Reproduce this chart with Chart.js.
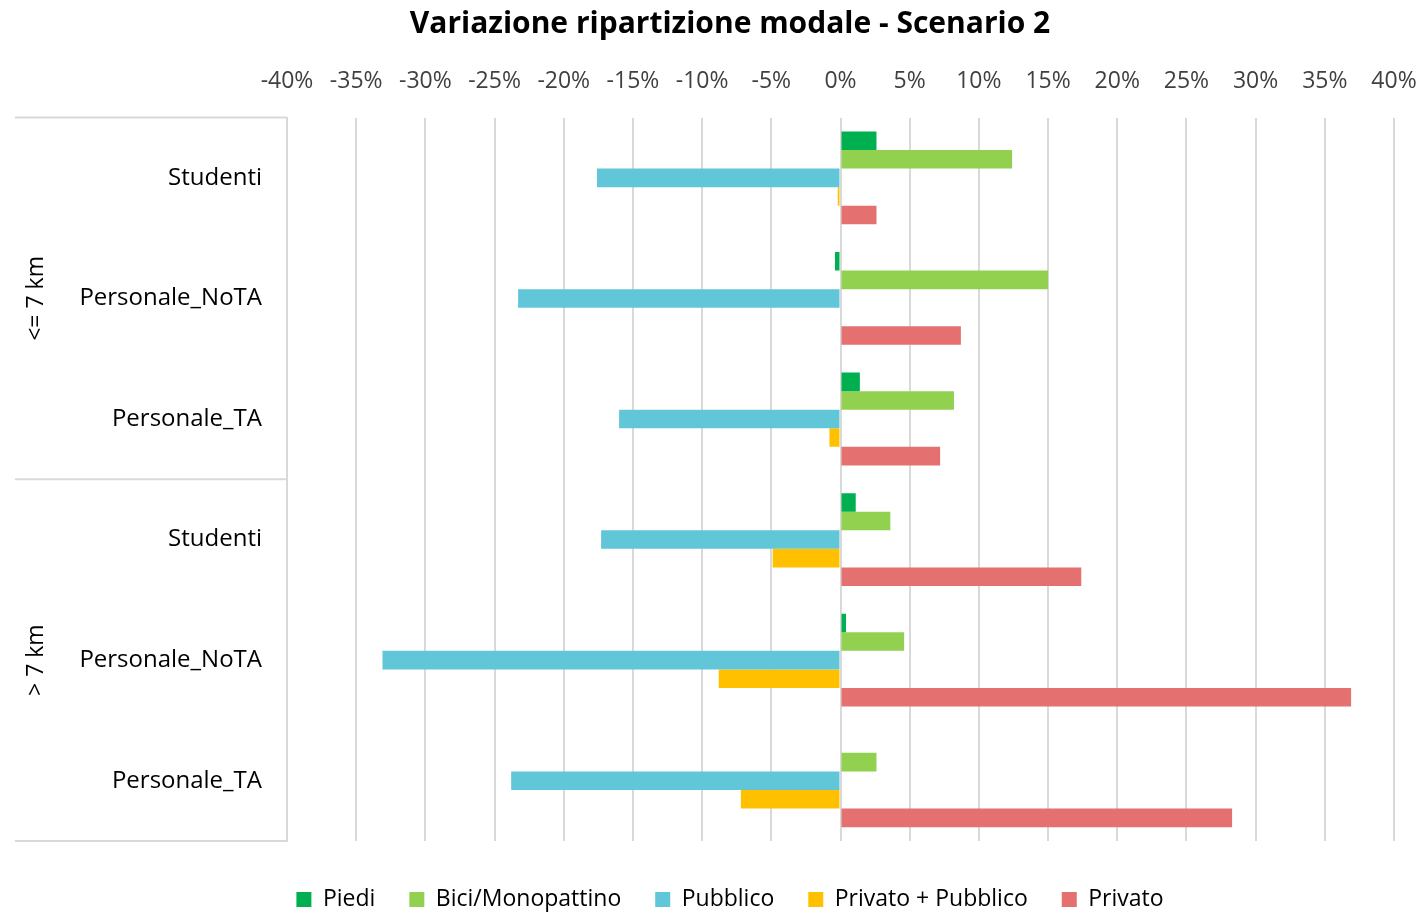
<!DOCTYPE html>
<html>
<head>
<meta charset="utf-8">
<script src="https://cdn.jsdelivr.net/npm/chart.js@4"></script>
<style>
  html, body { margin: 0; padding: 0; background: #fff; }
  #wrap { width: 1425px; height: 913px; }
</style>
</head>
<body>
<div id="wrap"><canvas id="myChart" width="1425" height="913"></canvas></div>
<script>
// categories (inner) and outer distance groups
let categories = ["Studenti", "Personale_NoTA", "Personale_TA", "Studenti", "Personale_NoTA", "Personale_TA"];
let groups = ["<= 7 km", "> 7 km"];
let groupSize = 3;

// series values (%)
let piedi = [2.6, -0.4, 1.4, 1.1, 0.4, 0];
let bici = [12.4, 15.0, 8.2, 3.6, 4.6, 2.6];
let pubblico = [-17.6, -23.3, -16.0, -17.3, -33.1, -23.8];
let privatoPubblico = [-0.2, 0, -0.8, -4.9, -8.8, -7.2];
let privato = [2.6, 8.7, 7.2, 17.4, 36.9, 28.3];

let seriesNames = ["Piedi", "Bici/Monopattino", "Pubblico", "Privato + Pubblico", "Privato"];
let colors = ["#00b050", "#92d050", "#62c6d9", "#ffc000", "#e47070"];

let xTicks = [-40, -35, -30, -25, -20, -15, -10, -5, 0, 5, 10, 15, 20, 25, 30, 35, 40];

let fontFamily = "'Open Sans', sans-serif";
let gridColor = "#d9d9d9";

// draws the outer group labels and separator lines on the category axis
let groupPlugin = {
    id: "groupLabels",
    afterDraw(chart) {
        let ctx = chart.ctx;
        let y = chart.scales.y;
        let area = chart.chartArea;
        let x0 = 15;
        let bounds = [area.top];
        for (let g = 1; g < groups.length; g++) {
            let i = g * groupSize;
            bounds.push((y.getPixelForValue(i - 1) + y.getPixelForValue(i)) / 2);
        }
        bounds.push(area.bottom);

        ctx.save();
        ctx.strokeStyle = gridColor;
        ctx.lineWidth = 2;
        bounds.forEach(b => {
            ctx.beginPath();
            ctx.moveTo(x0, b);
            ctx.lineTo(area.left, b);
            ctx.stroke();
        });

        ctx.fillStyle = "#000";
        ctx.font = "23px " + fontFamily;
        ctx.textAlign = "center";
        ctx.textBaseline = "middle";
        groups.forEach((name, g) => {
            let cy = (bounds[g] + bounds[g + 1]) / 2;
            ctx.save();
            ctx.translate(36, cy);
            ctx.rotate(-Math.PI / 2);
            ctx.fillText(name, 0, 0);
            ctx.restore();
        });
        ctx.restore();
    }
};

let seriesData = [piedi, bici, pubblico, privatoPubblico, privato];

let myChart = document.getElementById("myChart").getContext("2d");

let barChart = new Chart(myChart, {
    type: "bar",
    data: {
        labels: categories,
        datasets: seriesNames.map((name, i) => ({
            label: name,
            data: seriesData[i],
            backgroundColor: colors[i],
            borderWidth: 0,
            categoryPercentage: 0.77,
            barPercentage: 1.0
        }))
    },
    options: {
        indexAxis: "y",
        responsive: false,
        animation: false,
        layout: {
            padding: { left: 47, right: 12, top: 0, bottom: -8 }
        },
        scales: {
            x: {
                position: "top",
                min: -40,
                max: 40,
                afterBuildTicks(scale) {
                    scale.ticks = xTicks.map(v => ({ value: v }));
                },
                afterFit(scale) {
                    scale.paddingRight = 31;
                },
                ticks: {
                    callback: v => v + "%",
                    color: "#404040",
                    font: { size: 23, family: fontFamily },
                    padding: 22,
                    maxRotation: 0
                },
                grid: {
                    color: gridColor,
                    lineWidth: 2,
                    drawTicks: false
                },
                border: { display: false }
            },
            y: {
                ticks: {
                    color: "#000",
                    font: { size: 24, family: fontFamily },
                    padding: 17
                },
                grid: { display: false },
                border: { display: true, color: gridColor, width: 2 },
                afterFit(scale) {
                    scale.width = 240;
                }
            }
        },
        plugins: {
            title: {
                display: true,
                text: "Variazione ripartizione modale - Scenario 2",
                color: "#000",
                font: { size: 30, weight: "bold", family: fontFamily },
                padding: { top: 6, bottom: 4 }
            },
            legend: {
                position: "bottom",
                title: {
                    display: true,
                    text: "",
                    font: { size: 13, lineHeight: 1 },
                    padding: 0
                },
                labels: {
                    color: "#000",
                    font: { size: 23, family: fontFamily },
                    boxWidth: 15,
                    boxHeight: 15,
                    padding: 34
                }
            },
            tooltip: { enabled: false }
        }
    },
    plugins: [groupPlugin]
});
</script>
</body>
</html>
